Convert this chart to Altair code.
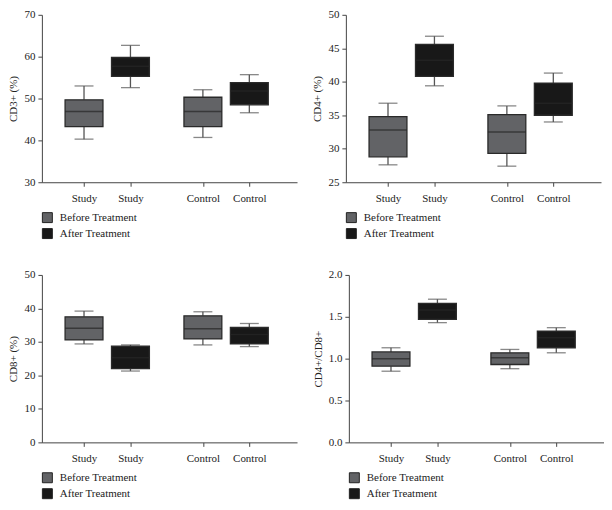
import altair as alt
import pandas as pd

groups = ["Study", "Study", "Control", "Control"]
treatments = ["Before Treatment", "After Treatment", "Before Treatment", "After Treatment"]

# five-number summaries per box: [whisker_low, q1, median, q3, whisker_high]
cd3 = [[40.3, 43.3, 46.9, 49.7, 53.0], [52.6, 55.3, 57.7, 59.8, 62.7],
       [40.7, 43.3, 46.9, 50.3, 52.1], [46.6, 48.5, 51.8, 53.8, 55.7]]
cd4 = [[27.6, 28.8, 32.8, 34.8, 36.8], [39.4, 40.8, 43.2, 45.6, 46.8],
       [27.4, 29.3, 32.5, 35.1, 36.4], [34.0, 35.0, 36.8, 39.8, 41.3]]
cd8 = [[29.4, 30.6, 34.1, 37.5, 39.2], [21.3, 22.0, 25.3, 28.7, 29.1],
       [29.1, 30.9, 33.9, 37.8, 39.0], [28.6, 29.4, 32.2, 34.3, 35.5]]
ratio = [[0.85, 0.91, 1.00, 1.08, 1.13], [1.43, 1.47, 1.58, 1.66, 1.71],
         [0.88, 0.93, 1.01, 1.07, 1.11], [1.07, 1.13, 1.25, 1.33, 1.37]]

panels = [
    ("CD3+ (%)", cd3, [30, 70], [30, 40, 50, 60, 70], "d"),
    ("CD4+ (%)", cd4, [25, 50], [25, 30, 35, 40, 45, 50], "d"),
    ("CD8+ (%)", cd8, [0, 50], [0, 10, 20, 30, 40, 50], "d"),
    ("CD4+/CD8+", ratio, [0, 2], [0, 0.5, 1.0, 1.5, 2.0], ".1f"),
]

FONT = "Liberation Serif"
GRAY = "#626366"
BLACK = "#181818"
W, H = 256, 168
GROUP_STEP = 2.56
pos = [gi * GROUP_STEP + ti + 1 for gi in range(2) for ti in range(2)]
label_expr = "datum.value < 3 ? 'Study' : 'Control'"


def panel(title, stats, dom, ticks, fmt):
    df = pd.DataFrame({
        "pos": pos,
        "group": groups,
        "treat": treatments,
        "lo": [s[0] for s in stats],
        "q1": [s[1] for s in stats],
        "med": [s[2] for s in stats],
        "q3": [s[3] for s in stats],
        "hi": [s[4] for s in stats],
    })
    xscale = alt.Scale(domain=[0.2, 5.48], nice=False, zero=False)
    xaxis = alt.Axis(values=pos, labelExpr=label_expr, title=None, grid=False,
                     labelFont=FONT, labelFontSize=11, labelColor="#222",
                     labelOverlap=False,
                     tickSize=4, labelPadding=6, domainColor="#444", tickColor="#444")
    yscale = alt.Scale(domain=dom, nice=False, zero=False)
    yaxis = alt.Axis(values=ticks, format=fmt, title=title, grid=False, titleFont=FONT,
                     titleFontSize=11, titleFontWeight="normal", titleColor="#222",
                     labelFont=FONT, labelFontSize=11, labelColor="#222", tickSize=4,
                     labelPadding=3, labelOverlap=False,
                     domainColor="#444", tickColor="#444", titlePadding=5)

    def X():
        return alt.X("pos:Q", scale=xscale, axis=xaxis)

    def Y(f):
        return alt.Y(f + ":Q", scale=yscale, axis=yaxis)

    base = alt.Chart(df)
    w1 = base.mark_rule(color="#555", strokeWidth=1.3).encode(x=X(), y=Y("lo"), y2="q1:Q")
    w2 = base.mark_rule(color="#555", strokeWidth=1.3).encode(x=X(), y=Y("q3"), y2="hi:Q")
    c1 = base.mark_tick(orient="horizontal", size=19, thickness=1.3, color="#555").encode(x=X(), y=Y("lo"))
    c2 = base.mark_tick(orient="horizontal", size=19, thickness=1.3, color="#555").encode(x=X(), y=Y("hi"))
    box = base.mark_bar(size=38, stroke="#2a2a2a", strokeWidth=1.3).encode(
        x=X(), y=Y("q1"), y2="q3:Q",
        color=alt.Color("treat:N",
                        scale=alt.Scale(domain=["Before Treatment", "After Treatment"], range=[GRAY, BLACK]),
                        legend=alt.Legend(title=None, orient="none", legendX=0, legendY=H + 30,
                                          direction="vertical", symbolType="square", symbolSize=100,
                                          symbolStrokeColor="#222", symbolStrokeWidth=1,
                                          labelFont=FONT, labelFontSize=11, labelColor="#222",
                                          rowPadding=1, labelOffset=7)))
    med = base.mark_tick(orient="horizontal", size=38, thickness=1.5, color="#262626").encode(x=X(), y=Y("med"))
    return alt.layer(w1, w2, c1, c2, box, med).properties(width=W, height=H)


charts = [panel(*p) for p in panels]

chart = alt.vconcat(
    alt.hconcat(charts[0], charts[1], spacing=15).resolve_scale(color="independent"),
    alt.hconcat(charts[2], charts[3], spacing=15).resolve_scale(color="independent"),
    spacing=28,
).resolve_scale(color="independent").properties(padding=0).configure_view(stroke=None)

chart.save("out.html", embed_options={"renderer": "svg", "actions": False})
